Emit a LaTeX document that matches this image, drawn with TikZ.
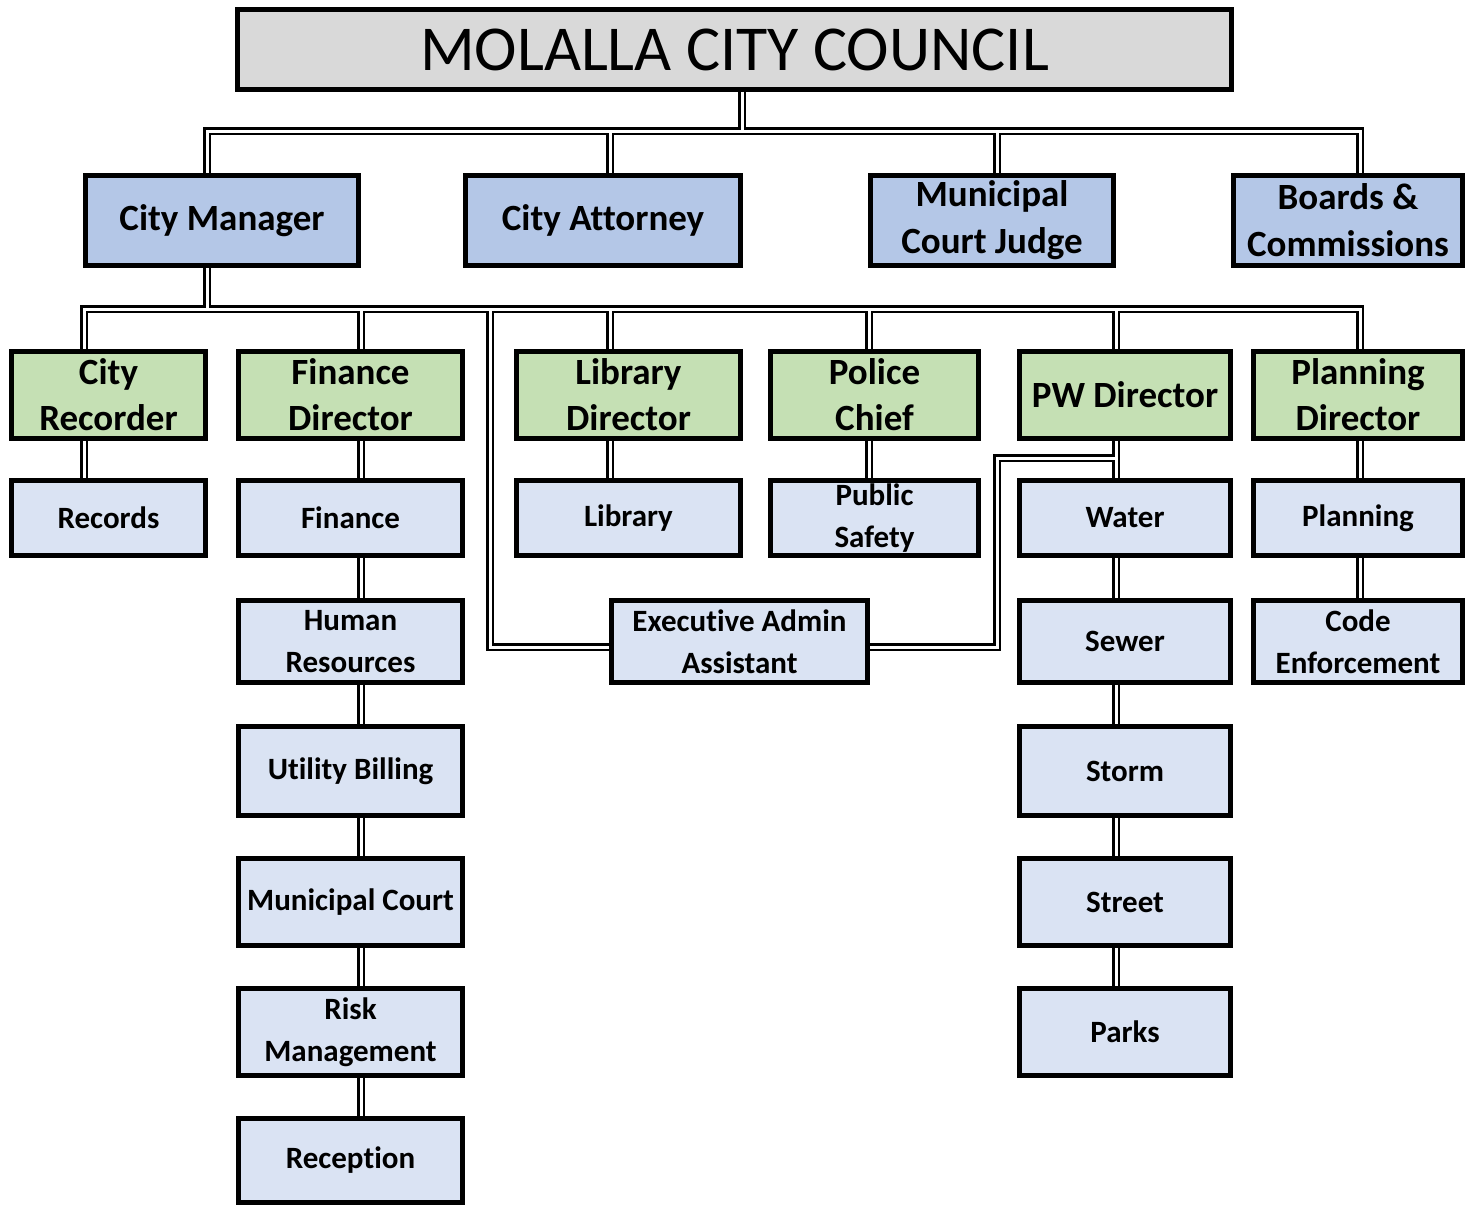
\documentclass[tikz,border=0pt]{standalone}
\usepackage{fontspec}
\setmainfont{Carlito}[Ligatures=NoCommon]
\usetikzlibrary{backgrounds}
\definecolor{titlegray}{HTML}{D9D9D9}
\definecolor{topblue}{HTML}{B4C7E7}
\definecolor{dirgreen}{HTML}{C5E0B4}
\definecolor{unitblue}{HTML}{DAE3F3}
\tikzset{
  basebox/.style={draw=black, line width=5.5pt, align=center, inner sep=0pt, text=black},
  titlebox/.style={basebox, fill=titlegray, font=\fontsize{64}{70}\selectfont},
  topbox/.style={basebox, fill=topblue, font=\bfseries\fontsize{37}{47}\selectfont},
  dirbox/.style={basebox, fill=dirgreen, font=\bfseries\fontsize{37}{46}\selectfont},
  unitbox/.style={basebox, fill=unitblue, font=\bfseries\fontsize{31}{42}\selectfont},
  outerc/.style={line width=8pt, black},
  innerc/.style={line width=3pt, white},
}
\newcommand\myconns[1]{%
  \draw[#1] (b1t |- title.south) -- (b1t);
  \draw[#1] (b1a |- cm.north) -- (b1a) -- (b1d) -- (b1d |- bc.north);
  \draw[#1] (b1b) -- (b1b |- ca.north);
  \draw[#1] (b1c) -- (b1c |- mj.north);
  \draw[#1] (b2cm |- cm.south) -- (b2cm);
  \draw[#1] (b2a |- rec.north) -- (b2a) -- (b2f) -- (b2f |- pd.north);
  \draw[#1] (b2b) -- (b2b |- fd.north);
  \draw[#1] (b2c) -- (b2c |- ld.north);
  \draw[#1] (b2d) -- (b2d |- pc.north);
  \draw[#1] (b2e) -- (b2e |- pw.north);
  \draw[#1] (b2x) -- (ex1) -- (ex1 -| eaa.west);
  \draw[#1] (ex2 -| eaa.east) -- (ex2) -- (ex3) -- (ex4);
  \draw[#1] (b2a |- rec.south) -- (b2a |- records.north);
  \draw[#1] (b2b |- fd.south) -- (b2b |- recep.north);
  \draw[#1] (b2c |- ld.south) -- (b2c |- lib.north);
  \draw[#1] (b2d |- pc.south) -- (b2d |- ps.north);
  \draw[#1] (b2e |- pw.south) -- (b2e |- parks.north);
  \draw[#1] (b2f |- pd.south) -- (b2f |- code.north);
}
\begin{document}
\begin{tikzpicture}[x=1pt, y=-1pt]
\useasboundingbox (0,0) rectangle (1472,1207);
% title
\node[titlebox, minimum width=994pt, minimum height=80pt] (title) at (734.5,49.5) {MOLALLA CITY COUNCIL};
% row 1
\node[topbox, minimum width=273pt, minimum height=90pt] (cm) at (222,220.5) {City Manager};
\node[topbox, minimum width=275pt, minimum height=90pt] (ca) at (603,220.5) {City Attorney};
\node[topbox, minimum width=243pt, minimum height=90pt] (mj) at (992,220.5) {Municipal\\Court Judge};
\node[topbox, minimum width=229pt, minimum height=90pt] (bc) at (1348,220.5) {Boards \&\\Commissions};
% row 2
\node[dirbox, minimum width=194pt, minimum height=87pt] (rec) at (108.5,395) {City\\Recorder};
\node[dirbox, minimum width=224pt, minimum height=87pt] (fd) at (350.5,395) {Finance\\Director};
\node[dirbox, minimum width=224pt, minimum height=87pt] (ld) at (628.5,395) {Library\\Director};
\node[dirbox, minimum width=208pt, minimum height=87pt] (pc) at (874.5,395) {Police\\Chief};
\node[dirbox, minimum width=211pt, minimum height=87pt] (pw) at (1125,395) {PW Director};
\node[dirbox, minimum width=209pt, minimum height=87pt] (pd) at (1358,395) {Planning\\Director};
% row 3
\node[unitbox, minimum width=194pt, minimum height=75pt] (records) at (108.5,518) {Records};
\node[unitbox, minimum width=224pt, minimum height=75pt] (fin) at (350.5,518) {Finance};
\node[unitbox, minimum width=224pt, minimum height=75pt] (lib) at (628.5,518) {Library};
\node[unitbox, minimum width=208pt, minimum height=75pt] (ps) at (874.5,518) {Public\\Safety};
\node[unitbox, minimum width=211pt, minimum height=75pt] (water) at (1125,518) {Water};
\node[unitbox, minimum width=209pt, minimum height=75pt] (plan) at (1358,518) {Planning};
% row 4
\node[unitbox, minimum width=224pt, minimum height=82pt] (hr) at (350.5,641.5) {Human\\Resources};
\node[unitbox, minimum width=256pt, minimum height=82pt] (eaa) at (739.5,641.5) {Executive Admin\\Assistant};
\node[unitbox, minimum width=211pt, minimum height=82pt] (sewer) at (1125,641.5) {Sewer};
\node[unitbox, minimum width=209pt, minimum height=82pt] (code) at (1358,641.5) {Code\\Enforcement};
% row 5
\node[unitbox, minimum width=224pt, minimum height=89pt] (ub) at (350.5,771) {Utility Billing};
\node[unitbox, minimum width=211pt, minimum height=89pt] (storm) at (1125,771) {Storm};
% row 6
\node[unitbox, minimum width=224pt, minimum height=87pt] (mc) at (350.5,902) {Municipal Court};
\node[unitbox, minimum width=211pt, minimum height=87pt] (street) at (1125,902) {Street};
% row 7
\node[unitbox, minimum width=224pt, minimum height=87pt] (risk) at (350.5,1032) {Risk\\Management};
\node[unitbox, minimum width=211pt, minimum height=87pt] (parks) at (1125,1032) {Parks};
% row 8
\node[unitbox, minimum width=224pt, minimum height=84pt] (recep) at (350.5,1160.5) {Reception};
% junction coordinates
\coordinate (b1t) at (742,131);
\coordinate (b1a) at (207,131);
\coordinate (b1b) at (610,131);
\coordinate (b1c) at (997,131);
\coordinate (b1d) at (1360,131);
\coordinate (b2cm) at (207,309);
\coordinate (b2a) at (84,309);
\coordinate (b2b) at (361,309);
\coordinate (b2x) at (490,309);
\coordinate (b2c) at (610,309);
\coordinate (b2d) at (869,309);
\coordinate (b2e) at (1116,309);
\coordinate (b2f) at (1360,309);
\coordinate (ex1) at (490,647);
\coordinate (ex2) at (997,647);
\coordinate (ex3) at (997,458);
\coordinate (ex4) at (1116,458);
\begin{scope}[on background layer]
  \myconns{outerc}
  \myconns{innerc}
\end{scope}
\end{tikzpicture}
\end{document}
